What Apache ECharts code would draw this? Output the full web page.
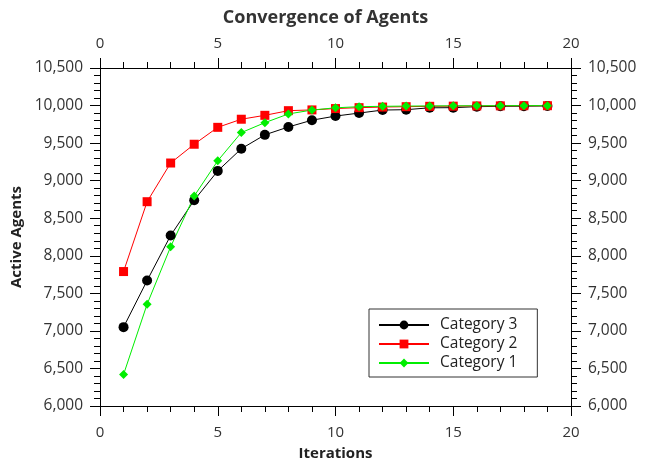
<!DOCTYPE html>
<html><head><meta charset="utf-8">
<script src="https://cdn.jsdelivr.net/npm/echarts@6/dist/echarts.min.js"></script>
<style>html,body{margin:0;padding:0;background:#fff}#c{width:651px;height:463px}</style>
</head><body><div id="c"></div>
<script>
const iterations = [1,2,3,4,5,6,7,8,9,10,11,12,13,14,15,16,17,18,19];
const category3 = [7050,7670,8270,8740,9130,9425,9610,9715,9805,9860,9900,9940,9945,9970,9972,9985,9990,9992,9995];
const category2 = [7790,8720,9235,9485,9710,9818,9870,9932,9942,9960,9972,9980,9985,9990,9992,9995,9996,9998,9998];
const category1 = [6420,7355,8120,8795,9265,9640,9772,9888,9940,9970,9985,9990,9993,9995,9996,9997,9998,9999,9999];
const xTicks = {min:0, max:20, interval:5};
const yTicks = {min:6000, max:10500, interval:500};

const font = 'Open Sans';
const fmt = v => v.toLocaleString('en-US');
function xAxis(pos){
  return {type:'value', position:pos, min:xTicks.min, max:xTicks.max, interval:xTicks.interval,
    name: pos==='bottom' ? 'Iterations' : '', nameLocation:'middle', nameGap:40,
    nameTextStyle:{fontFamily:font, fontWeight:'bold', fontSize:15, color:'#222'},
    axisLine:{show:true, onZero:false, lineStyle:{color:'#000', width:1}},
    axisTick:{show:true, inside:false, length:10, lineStyle:{color:'#000'}},
    minorTick:{show:true, splitNumber:5, length:6, lineStyle:{color:'#000'}},
    axisLabel:{fontFamily:font, fontSize:15, color:'#333', margin: pos==='bottom' ? 19 : 17},
    splitLine:{show:false}};
}
function yAxis(pos){
  return {type:'value', position:pos, min:yTicks.min, max:yTicks.max, interval:yTicks.interval,
    name: pos==='left' ? 'Active Agents' : '', nameLocation:'middle', nameGap:63, nameRotate:90,
    nameTextStyle:{fontFamily:font, fontWeight:'bold', fontSize:15, color:'#222'},
    axisLine:{show:true, onZero:false, lineStyle:{color:'#000', width:1}},
    axisTick:{show:true, inside:false, length:10, lineStyle:{color:'#000'}},
    minorTick:{show:true, splitNumber:5, length:6, lineStyle:{color:'#000'}},
    axisLabel:{fontFamily:font, fontSize:15.5, color:'#333', margin:17, formatter:fmt},
    splitLine:{show:false}};
}
function pts(arr){ return iterations.map((x,i)=>[x,arr[i]]); }
const chart = echarts.init(document.getElementById('c'));
chart.setOption({
  animation:false,
  backgroundColor:'#fff',
  title:{text:'Convergence of Agents', left:'center', top:4,
    textStyle:{fontFamily:font, fontWeight:'bold', fontSize:18, color:'#333'}},
  grid:{left:100, right:80, top:68, bottom:57, outerBoundsMode:'none', containLabel:false},
  xAxis:[xAxis('bottom'), xAxis('top')],
  yAxis:[yAxis('left'), yAxis('right')],
  legend:{orient:'vertical', left:369, top:309,
    backgroundColor:'#fff', borderColor:'#333', borderWidth:1, padding:[8,20,6,9],
    itemWidth:50, itemHeight:11, itemGap:3,
    textStyle:{fontFamily:font, fontSize:15.5, color:'#222', padding:[0,0,0,6]},
    data:['Category 3','Category 2','Category 1']},
  series:[
    {name:'Category 3', type:'line', data:pts(category3), symbol:'circle', symbolSize:10,
      itemStyle:{color:'#000'}, lineStyle:{color:'#000', width:1}},
    {name:'Category 2', type:'line', data:pts(category2), symbol:'rect', symbolSize:9,
      itemStyle:{color:'#ff0000'}, lineStyle:{color:'#ff0000', width:1}},
    {name:'Category 1', type:'line', data:pts(category1), symbol:'diamond', symbolSize:9,
      itemStyle:{color:'#00ee00'}, lineStyle:{color:'#00ee00', width:1}}
  ]
});
</script></body></html>
